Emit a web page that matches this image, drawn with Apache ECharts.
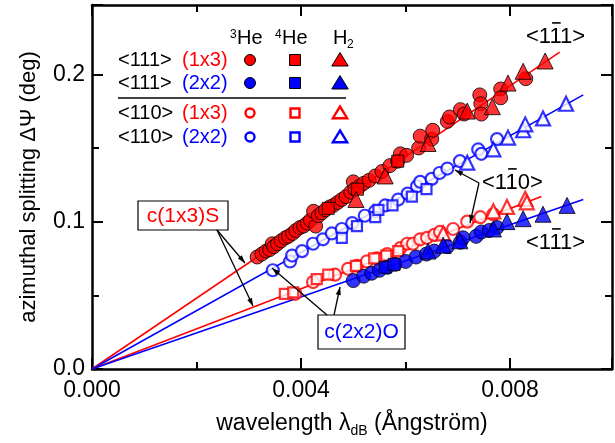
<!DOCTYPE html>
<html>
<head>
<meta charset="utf-8">
<script src="https://cdn.jsdelivr.net/npm/echarts@6/dist/echarts.min.js"></script>
<style>
  html, body { margin: 0; padding: 0; background: #fff; }
  #chart { width: 615px; height: 443px; }
</style>
</head>
<body>
<div id="chart"></div>
<script>
const FONT = "Liberation Sans, Arial, sans-serif";
const RED = "#ff0000";
const BLUE = "#0000ff";

// <111> (1x3), filled red
const r111He3 = [[0.00316,0.076],[0.00325,0.078],[0.00333,0.080],[0.00340,0.081],[0.00345,0.085],[0.00348,0.083],[0.00355,0.085],[0.00362,0.087],[0.00370,0.089],[0.00376,0.090],[0.00384,0.092],[0.00390,0.094],[0.00398,0.096],[0.00405,0.097],[0.00412,0.099],[0.00418,0.101],[0.00424,0.107],[0.00428,0.097],[0.00433,0.104],[0.00440,0.106],[0.00447,0.108],[0.00455,0.110],[0.00462,0.111],[0.00470,0.113],[0.00478,0.115],[0.00486,0.117],[0.00495,0.120],[0.00500,0.127],[0.00503,0.122],[0.00512,0.124],[0.00520,0.126],[0.00530,0.128],[0.00542,0.131],[0.00555,0.134],[0.00570,0.138],[0.00585,0.141],[0.00590,0.146],[0.00602,0.145],[0.00625,0.150],[0.00628,0.158],[0.00650,0.156],[0.00652,0.162],[0.00680,0.168],[0.00684,0.171],[0.00705,0.176],[0.00712,0.173],[0.00742,0.186],[0.00744,0.180],[0.00745,0.173],[0.00782,0.190],[0.00782,0.184],[0.00830,0.197]];
const r111He4 = [[0.00452,0.109],[0.00508,0.122],[0.00585,0.141]];
const r111H2 = [[0.00505,0.115],[0.00561,0.131],[0.00643,0.153],[0.00718,0.175],[0.00766,0.178],[0.00796,0.194],[0.00825,0.202],[0.00867,0.209]];

// <111> (2x2), filled blue
const b111He3 = [[0.00500,0.060],[0.00520,0.063],[0.00535,0.065],[0.00550,0.067],[0.00565,0.069],[0.00580,0.071],[0.00600,0.073],[0.00620,0.076],[0.00640,0.078],[0.00655,0.080],[0.00680,0.083],[0.00705,0.086],[0.00710,0.089],[0.00735,0.090],[0.00745,0.093],[0.00760,0.094],[0.00775,0.096]];
const b111He4 = [[0.00561,0.069],[0.00578,0.071]];
const b111H2 = [[0.00643,0.080],[0.00672,0.084],[0.00704,0.087],[0.00768,0.095],[0.00794,0.100],[0.00825,0.102],[0.00863,0.105],[0.00909,0.111]];

// <110> (1x3), open red
const r110He3 = [[0.00389,0.051],[0.00423,0.059],[0.00465,0.064],[0.00490,0.068],[0.00507,0.070],[0.00526,0.073],[0.00545,0.075],[0.00565,0.078],[0.00590,0.082],[0.00603,0.085],[0.00614,0.085],[0.00628,0.088],[0.00641,0.089],[0.00655,0.091],[0.00666,0.093],[0.00691,0.095],[0.00718,0.100],[0.00743,0.103],[0.00768,0.105]];
const r110He4 = [[0.00369,0.051],[0.00385,0.052],[0.00430,0.061],[0.00452,0.064],[0.00505,0.070],[0.00540,0.075],[0.00563,0.077],[0.00586,0.080]];
const r110H2 = [[0.00672,0.092],[0.00768,0.107],[0.00794,0.110],[0.00829,0.1155],[0.00832,0.113]];

// <110> (2x2), open blue
const b110He3 = [[0.00346,0.067],[0.00379,0.073],[0.00383,0.077],[0.00402,0.080],[0.00423,0.085],[0.00442,0.088],[0.00459,0.092],[0.00478,0.095],[0.00498,0.099],[0.00522,0.104],[0.00542,0.107],[0.00561,0.111],[0.00586,0.115],[0.00604,0.119],[0.00622,0.124],[0.00628,0.127],[0.00650,0.129],[0.00665,0.133],[0.00680,0.136],[0.00704,0.141],[0.00739,0.149],[0.00745,0.146],[0.00775,0.156]];
const b110He4 = [[0.00478,0.089],[0.00507,0.097],[0.00542,0.103],[0.00548,0.108],[0.00575,0.111],[0.00612,0.117],[0.00640,0.122]];
const b110H2 = [[0.00718,0.140],[0.00768,0.149],[0.00796,0.157],[0.00825,0.162],[0.00829,0.166],[0.00863,0.170],[0.00907,0.180]];

// linear fits through the origin
const fitR111 = [[0, 0], [0.00895, 0.215]];
const fitB110 = [[0, 0], [0.0094, 0.186]];
const fitR110 = [[0, 0], [0.0086, 0.117]];
const fitB111 = [[0, 0], [0.0094, 0.115]];

const xTicks = { min: 0, max: 0.00995, interval: 0.004 };
const yTicks = { min: 0, max: 0.247, interval: 0.1 };

const chart = echarts.init(document.getElementById("chart"));

function fitLine(data, color) {
    return {
        type: "line", data: data, symbol: "none", silent: true, z: 1,
        lineStyle: { color: color, width: 1.6 }
    };
}

function points(data, shape, color, filled) {
    const size = { circle: 14, rect: 12, triangle: 16 }[shape] - (filled ? 0 : 2);
    return {
        type: "scatter", data: data, symbol: shape, symbolSize: size, z: filled ? 3 : 2,
        itemStyle: filled
            ? { color: color, borderColor: "#000", borderWidth: 1 }
            : { color: "#fff", borderColor: color, borderWidth: 2.2 }
    };
}

function xAxisDef(pos) {
    return {
        type: "value", position: pos, min: xTicks.min, max: xTicks.max, interval: xTicks.interval,
        axisLine: { show: true, onZero: false, lineStyle: { color: "#000", width: 2.5 } },
        axisTick: { show: true, inside: true, length: 11, lineStyle: { color: "#000", width: 2 } },
        minorTick: { show: true, splitNumber: 2, length: 7, lineStyle: { color: "#000", width: 2 } },
        splitLine: { show: false },
        axisLabel: pos === "bottom" ? {
            show: true, margin: 10, color: "#000", fontFamily: FONT, fontSize: 23,
            showMaxLabel: false, formatter: v => v.toFixed(3)
        } : { show: false },
        name: pos === "bottom" ? "wavelength λ{sub|dB} (Ångström)" : "",
        nameLocation: "middle", nameGap: 41,
        nameTextStyle: {
            color: "#000", fontFamily: FONT, fontSize: 23, lineHeight: 28,
            rich: { sub: { fontFamily: FONT, fontSize: 14, color: "#000", verticalAlign: "bottom", lineHeight: 14 } }
        }
    };
}

function yAxisDef(pos) {
    return {
        type: "value", position: pos, min: yTicks.min, max: yTicks.max, interval: yTicks.interval,
        axisLine: { show: true, onZero: false, lineStyle: { color: "#000", width: 2.5 } },
        axisTick: { show: true, inside: true, length: 11, lineStyle: { color: "#000", width: 2 } },
        minorTick: { show: true, splitNumber: 2, length: 7, lineStyle: { color: "#000", width: 2 } },
        splitLine: { show: false },
        axisLabel: pos === "left" ? {
            show: true, margin: 7, color: "#000", fontFamily: FONT, fontSize: 23,
            showMaxLabel: false, formatter: v => v.toFixed(1)
        } : { show: false },
        name: pos === "left" ? "azimuthal splitting ΔΨ (deg)" : "",
        nameLocation: "middle", nameGap: 52, nameRotate: 90,
        nameTextStyle: { color: "#000", fontFamily: FONT, fontSize: 22 }
    };
}

// ---- overlay: legend table, boxes, arrows, labels ----
const measure = document.createElement("canvas").getContext("2d");
function textWidth(str, size) {
    measure.font = size + "px " + FONT;
    return measure.measureText(str).width;
}

function txt(x, y, text, size, color, align) {
    return {
        type: "text", x: x, y: y, z: 100,
        style: {
            text: text, fill: color || "#000", font: size + "px " + FONT,
            align: align || "left", verticalAlign: "middle",
            textAlign: align || "left", textVerticalAlign: "middle"
        }
    };
}

function seg(x1, y1, x2, y2, w) {
    return { type: "line", z: 100, shape: { x1, y1, x2, y2 }, style: { stroke: "#000", lineWidth: w || 1.3 } };
}

function arrow(x1, y1, x2, y2) {
    const a = Math.atan2(y2 - y1, x2 - x1), L = 8, w = 2.6;
    const bx = x2 - L * Math.cos(a), by = y2 - L * Math.sin(a);
    return [seg(x1, y1, x2, y2), {
        type: "polygon", z: 100,
        shape: { points: [[x2, y2], [bx + w * Math.sin(a), by - w * Math.cos(a)], [bx - w * Math.sin(a), by + w * Math.cos(a)]] },
        style: { fill: "#000" }
    }];
}

// label like <1-11> with a bar over the middle digit
function barLabel(x, y, text, size) {
    const a = textWidth(text.slice(0, 2), size), b = textWidth(text.slice(0, 3), size);
    return [txt(x, y, text, size), seg(x + a + 1, y - size * 0.64, x + b - 1, y - size * 0.64, 1.6)];
}

function legendSymbol(x, y, shape, color, filled) {
    const st = filled ? { fill: color, stroke: "#000", lineWidth: 1 } : { fill: "#fff", stroke: color, lineWidth: 2.4 };
    const r = filled ? 5.5 : 4.5;
    if (shape === "circle") return { type: "circle", z: 100, shape: { cx: x, cy: y, r: r }, style: st };
    if (shape === "rect") return { type: "rect", z: 100, shape: { x: x - r, y: y - r, width: 2 * r, height: 2 * r }, style: st };
    const t = r + 2;
    return { type: "polygon", z: 100, shape: { points: [[x, y - t], [x + t * 1.1, y + t * 0.8], [x - t * 1.1, y + t * 0.8]] }, style: st };
}

const legendRows = [
    { dir: "<111>", rec: "(1x3)", color: RED, filled: true, y: 60 },
    { dir: "<111>", rec: "(2x2)", color: BLUE, filled: true, y: 83 },
    { dir: "<110>", rec: "(1x3)", color: RED, filled: false, y: 113 },
    { dir: "<110>", rec: "(2x2)", color: BLUE, filled: false, y: 137 }
];
const legendCols = [["circle", 250], ["rect", 295], ["triangle", 340]];

const graphics = [];
graphics.push(txt(230, 35, "3", 12), txt(237, 38, "He", 20));
graphics.push(txt(275, 35, "4", 12), txt(282, 38, "He", 20));
graphics.push(txt(333, 38, "H", 20), txt(347, 45, "2", 12));
legendRows.forEach(r => {
    graphics.push(txt(118, r.y, r.dir, 20), txt(182, r.y, r.rec, 20, r.color));
    legendCols.forEach(c => graphics.push(legendSymbol(c[1], r.y, c[0], r.color, r.filled)));
});
graphics.push(seg(118, 98, 346, 98, 1.5));

// boxed labels
graphics.push({ type: "rect", z: 99, shape: { x: 138, y: 201, width: 90, height: 29 }, style: { fill: "#fff", stroke: "#000", lineWidth: 1.2 } });
graphics.push(txt(183, 216, "c(1x3)S", 21, RED, "center"));
graphics.push({ type: "rect", z: 99, shape: { x: 318, y: 315, width: 87, height: 34 }, style: { fill: "#fff", stroke: "#000", lineWidth: 1.2 } });
graphics.push(txt(361.5, 332, "c(2x2)O", 21, BLUE, "center"));

graphics.push(...arrow(217, 230, 245, 263), ...arrow(217, 230, 253, 306));
graphics.push(...arrow(327, 315, 272, 268), ...arrow(334, 315, 340, 287));
graphics.push(...arrow(479, 183, 455, 170), ...arrow(479, 183, 470, 223));

graphics.push(...barLabel(526, 37, "<111>", 22));
graphics.push(...barLabel(482, 183, "<110>", 22));
graphics.push(...barLabel(526, 243, "<111>", 22));

chart.setOption({
    animation: false,
    backgroundColor: "#fff",
    grid: { left: 92, right: 3, top: 5, bottom: 71, containLabel: false },
    xAxis: [xAxisDef("bottom"), xAxisDef("top")],
    yAxis: [yAxisDef("left"), yAxisDef("right")],
    series: [
        fitLine(fitR111, RED), fitLine(fitB110, BLUE), fitLine(fitR110, RED), fitLine(fitB111, BLUE),
        points(b110He3, "circle", BLUE, false), points(b110He4, "rect", BLUE, false), points(b110H2, "triangle", BLUE, false),
        points(r110He3, "circle", RED, false), points(r110He4, "rect", RED, false), points(r110H2, "triangle", RED, false),
        points(r111He3, "circle", RED, true), points(r111He4, "rect", RED, true), points(r111H2, "triangle", RED, true),
        points(b111He3, "circle", BLUE, true), points(b111He4, "rect", BLUE, true), points(b111H2, "triangle", BLUE, true)
    ],
    graphic: graphics
});
</script>
</body>
</html>
